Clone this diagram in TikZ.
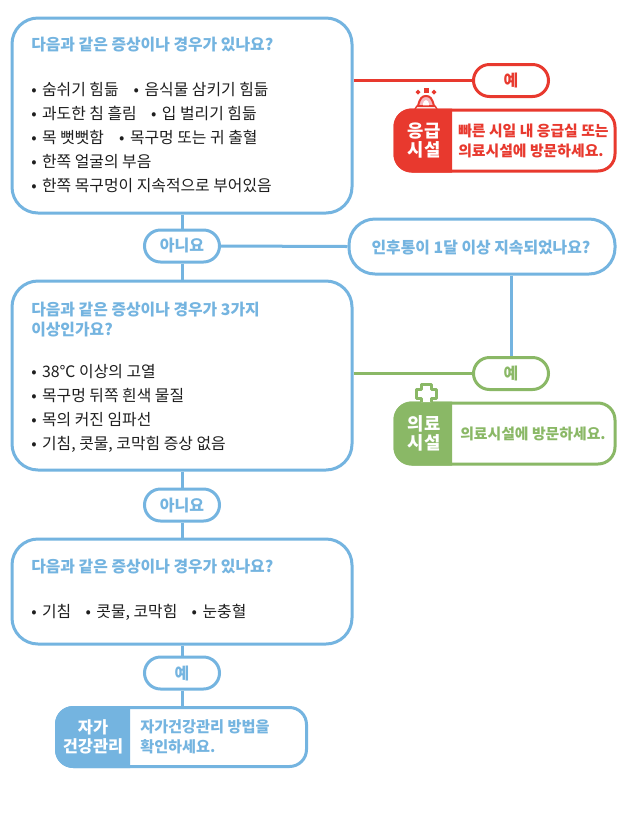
\documentclass[tikz,border=0pt]{standalone}
\usepackage{fontspec}
\setmainfont{Noto Sans CJK KR}
\definecolor{cblue}{HTML}{74B4E0}
\definecolor{cred}{HTML}{E8392E}
\definecolor{cgreen}{HTML}{8AB866}
\definecolor{ctext}{HTML}{1E1E1E}
\definecolor{cpink}{HTML}{F6B9C0}
\newlength\px \setlength\px{0.75pt}
\newcommand{\itm}{•\hspace{.345em}}
\tikzset{
 bx/.style={draw=#1,line width=3\px,fill=white,rectangle,inner sep=0pt},
 mainbox/.style={bx=cblue,rounded corners=26\px,minimum width=340\px},
 pill/.style={bx=#1,rounded corners=16\px,minimum width=75\px,minimum height=32\px,text=#1,
   font=\fontsize{12}{14}\selectfont\bfseries},
 resbox/.style={bx=#1,rounded corners=17\px},
 link/.style={draw=#1,line width=3\px},
 title/.style={anchor=north west,align=left,inner sep=0pt,text=cblue,
   font=\fontsize{11.9}{15}\selectfont\bfseries},
 body/.style={anchor=north west,align=left,inner sep=0pt,text=ctext,
   font=\fontsize{11.9}{18}\selectfont},
 side/.style={align=center,inner sep=0pt,text=white,
   font=\fontsize{13.3}{14.5}\selectfont\bfseries},
 sideb/.style={align=center,inner sep=0pt,text=white,
   font=\fontsize{12.3}{14.5}\selectfont\bfseries},
 msg/.style={align=left,inner sep=0pt,anchor=west,text=#1,
   font=\fontsize{11.15}{15}\selectfont\bfseries},
 msgb/.style={align=left,inner sep=0pt,anchor=west,text=#1,
   font=\fontsize{11.4}{15}\selectfont\bfseries},
}
\begin{document}
\begin{tikzpicture}[x=0.75pt,y=-0.75pt]
\useasboundingbox (0,0) rectangle (634,819);
\fill[white] (0,0) rectangle (634,819);
% boxes and pills
\node[mainbox,minimum height=195\px] (b1) at (182,115.5) {};
\node[mainbox,minimum height=189\px] (b2) at (182,375.5) {};
\node[mainbox,minimum height=105\px] (b3) at (182,591.5) {};
\node[bx=cblue,rounded corners=26\px,minimum width=266\px,minimum height=55\px] (q) at (482,246.5) {};
\node[pill=cblue] (no1) at (182,246) {아니요};
\node[pill=cblue] (no2) at (182,505) {아니요};
\node[pill=cblue] (yes3) at (182,673) {예};
\node[pill=cred] (yes1) at (511,80.5) {예};
\node[pill=cgreen] (yes2) at (511,373.5) {예};
% connectors
\path[link=cred] (b1.east |- yes1) -- (yes1.west);
\path[link=cgreen] (b2.east |- yes2) -- (yes2.west);
\path[link=cblue] (no1.east) -- (q.west);
\path[link=cblue] (q.south -| yes2) -- (yes2.north);
\path[link=cblue] (b1.south) -- (no1.north);
\path[link=cblue] (no1.south) -- (b2.north);
\path[link=cblue] (b2.south) -- (no2.north);
\path[link=cblue] (no2.south) -- (b3.north);
\path[link=cblue] (b3.south) -- (yes3.north);
% result boxes
\node[resbox=cred,minimum width=220\px,minimum height=61\px] (rr) at (505,140.5) {};
\node[resbox=cgreen,minimum width=220\px,minimum height=61\px] (rg) at (505,433.5) {};
\node[resbox=cblue,minimum width=250\px,minimum height=59\px] (rb) at (181.5,737) {};
\path[link=cblue] (yes3.south) -- (rb.north -| yes3);
\begin{scope}
 \clip (390,100) rectangle (452,180);
 \fill[cred,rounded corners=18\px] (rr.south west) rectangle (rr.north east);
\end{scope}
\begin{scope}
 \clip (390,395) rectangle (452,470);
 \fill[cgreen,rounded corners=18\px] (rg.south west) rectangle (rg.north east);
\end{scope}
\begin{scope}
 \clip (50,700) rectangle (130,775);
 \fill[cblue,rounded corners=18\px] (rb.south west) rectangle (rb.north east);
\end{scope}
% siren
\fill[cred] (423.5,88) rectangle (428.5,93);
\fill[cred] (418,89.5) -- (420.5,92) -- (418,94.5) -- (415.5,92) -- cycle;
\fill[cred] (434,89.5) -- (436.5,92) -- (434,94.5) -- (431.5,92) -- cycle;
\draw[cred,line width=2\px,fill=cpink] (418,106) .. controls (420,98) and (422,96) .. (426,96) .. controls (430,96) and (432,98) .. (434,106) -- cycle;
\fill[white] (423,106) .. controls (423,102) and (424,100) .. (426,100) .. controls (428,100) and (429,102) .. (429,106) -- cycle;
\draw[cred,line width=1.5\px] (415,109) -- (417,106) -- (435,106) -- (437,109);
% cross
\draw[cgreen,line width=3\px,fill=white,line join=round] (421,402) -- (421,398) -- (416,398) -- (416,389) -- (421,389) -- (421,384) -- (431,384) -- (431,389) -- (436,389) -- (436,398) -- (431,398) -- (431,402);
% texts
\node[title] (t1) at (31,37) {다음과 같은 증상이나 경우가 있나요?};
\node[body] (l1) at (31,82) {\itm 숨쉬기 힘듦\hspace{.95em}\itm 음식물 삼키기 힘듦\\
\itm 과도한 침 흘림\hspace{.9em}\itm 입 벌리기 힘듦\\
\itm 목 뻣뻣함\hspace{.95em}\itm 목구멍 또는 귀 출혈\\
\itm 한쪽 얼굴의 부음\\
\itm 한쪽 목구멍이 지속적으로 부어있음};
\node[title] (t2) at (31,302) {다음과 같은 증상이나 경우가 3가지\\이상인가요?};
\node[body] (l2) at (31,364) {\itm 38℃ 이상의 고열\\
\itm 목구멍 뒤쪽 흰색 물질\\
\itm 목의 커진 임파선\\
\itm 기침, 콧물, 코막힘 증상 없음};
\node[title] (t3) at (31,559) {다음과 같은 증상이나 경우가 있나요?};
\node[body] (l3) at (31,604) {\itm 기침\hspace{.9em}\itm 콧물, 코막힘\hspace{.9em}\itm 눈충혈};
\node[title,anchor=center] (tq) at (481,247.5) {인후통이 1달 이상 지속되었나요?};
\node[side] (sr) at (424,140.5) {응급\\시설};
\node[side] (sg) at (424,433.5) {의료\\시설};
\node[sideb] (sb) at (93,737) {자가\\건강관리};
\node[msg=cred] (mr) at (458,140.5) {빠른 시일 내 응급실 또는\\의료시설에 방문하세요.};
\node[msg=cgreen] (mg) at (460,433.5) {의료시설에 방문하세요.};
\node[msgb=cblue] (mb) at (140,737) {자가건강관리 방법을\\확인하세요.};
\end{tikzpicture}
\end{document}
